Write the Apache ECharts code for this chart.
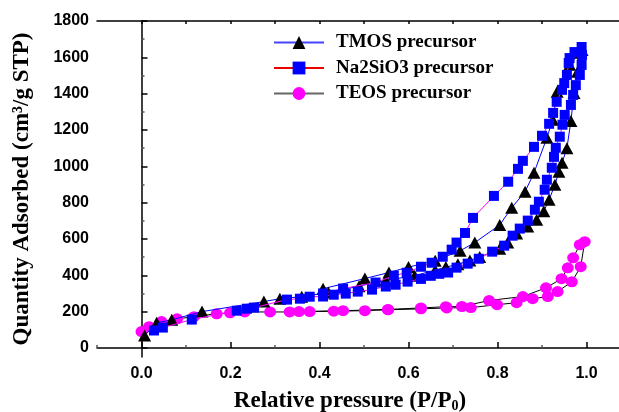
<!DOCTYPE html>
<html>
<head>
<meta charset="utf-8">
</head>
<body style="margin: 0">
<div id="container" style="width: 619px; height: 412px"></div>
<script src="https://cdn.jsdelivr.net/npm/echarts@6/dist/echarts.min.js"></script>
<script>
// isotherms: adsorption branch (up) then desorption branch (down), [P/P0, quantity]
var tmosData = [
    [0.007, 68], [0.034, 138], [0.068, 155], [0.136, 200], [0.275, 255], [0.311, 271],
    [0.36, 282], [0.42, 305], [0.489, 340], [0.549, 372], [0.614, 398], [0.66, 428],
    [0.684, 445], [0.711, 460], [0.738, 482], [0.76, 500], [0.805, 546], [0.823, 580],
    [0.843, 630], [0.868, 668], [0.888, 706], [0.904, 752], [0.916, 816], [0.929, 898],
    [0.938, 970], [0.945, 1019], [0.956, 1100], [0.965, 1250], [0.972, 1404], [0.98, 1520],
    [0.99, 1640],
    [0.985, 1625], [0.962, 1559], [0.934, 1410], [0.924, 1256], [0.911, 1157], [0.882, 964],
    [0.862, 860], [0.832, 772], [0.805, 677], [0.749, 580], [0.716, 535], [0.66, 480],
    [0.60, 445], [0.556, 415], [0.502, 382], [0.408, 326]
];
var na2sio3Data = [
    [0.028, 96], [0.048, 112], [0.113, 156], [0.214, 205], [0.237, 216], [0.253, 222],
    [0.327, 266], [0.356, 271], [0.378, 282], [0.408, 283], [0.432, 293], [0.459, 299],
    [0.486, 310], [0.518, 321], [0.549, 338], [0.571, 348], [0.598, 365], [0.628, 380],
    [0.65, 397], [0.669, 408], [0.689, 415], [0.708, 442], [0.733, 464], [0.758, 491],
    [0.788, 530], [0.815, 563], [0.834, 618], [0.85, 657], [0.868, 701], [0.884, 761],
    [0.893, 805], [0.906, 871], [0.911, 926], [0.922, 992], [0.927, 1052], [0.931, 1102],
    [0.94, 1163], [0.946, 1229], [0.951, 1283], [0.965, 1338], [0.97, 1393], [0.976, 1447],
    [0.985, 1503], [0.989, 1558], [0.99, 1613], [0.989, 1657],
    [0.973, 1629], [0.962, 1596], [0.96, 1569], [0.956, 1503], [0.95, 1458], [0.945, 1421],
    [0.933, 1355], [0.925, 1294], [0.916, 1234], [0.9, 1168], [0.882, 1107], [0.857, 1030],
    [0.846, 986], [0.824, 915], [0.792, 837], [0.745, 716], [0.727, 633], [0.708, 580],
    [0.697, 541], [0.677, 502], [0.652, 469], [0.628, 447], [0.596, 414], [0.567, 398],
    [0.526, 360], [0.453, 327], [0.408, 300]
];
var teosData = [
    [0.0, 90], [0.017, 117], [0.045, 145], [0.08, 160], [0.118, 172], [0.169, 188],
    [0.199, 193], [0.232, 198], [0.289, 198], [0.333, 198], [0.378, 200], [0.432, 202],
    [0.502, 205], [0.554, 210], [0.628, 215], [0.686, 220], [0.74, 222], [0.799, 238],
    [0.843, 249], [0.879, 271], [0.913, 283], [0.935, 310], [0.967, 364], [0.987, 447],
    [0.996, 585],
    [0.985, 568], [0.97, 496], [0.958, 441], [0.944, 381], [0.909, 331], [0.857, 283],
    [0.781, 261], [0.72, 228], [0.684, 227], [0.628, 220], [0.554, 212], [0.453, 205],
    [0.354, 200]
];
var seriesNames = ['TMOS precursor', 'Na2SiO3 precursor', 'TEOS precursor'];

var xMajorTicks = [0, 0.2, 0.4, 0.6, 0.8, 1.0];
var xMinorTicks = [-0.1, 0.1, 0.3, 0.5, 0.7, 0.9];
var xTopTicks = [0, 0.1, 0.2, 0.3, 0.4, 0.5, 0.6, 0.7, 0.8, 0.9, 1.0];
var yMajorTicks = [0, 200, 400, 600, 800, 1000, 1200, 1400, 1600, 1800];
var yMinorTicks = [100, 300, 500, 700, 900, 1100, 1300, 1500, 1700];

var dom = document.getElementById('container');
var myChart = echarts.init(dom);

var axisLineStyle = {color: '#000', width: 1.5};
var tickFont = {color: '#000', fontFamily: 'Liberation Sans', fontWeight: 'bold', fontSize: 16};

var option = {
    animation: false,
    grid: {left: 97, top: 21, right: -12, bottom: 55, outerBoundsMode: 'none'},
    legend: {
        orient: 'vertical',
        left: 273,
        top: 33,
        padding: 0,
        itemWidth: 50,
        itemHeight: 16,
        itemGap: 6.5,
        textStyle: {
            fontFamily: 'Liberation Serif', fontWeight: 'bold', fontSize: 19, color: '#000',
            padding: [0, 0, 0, 7]
        },
        data: [
            {name: seriesNames[0], lineStyle: {color: '#4444ff'}},
            {name: seriesNames[1], lineStyle: {color: '#ee0000'}},
            {name: seriesNames[2], lineStyle: {color: '#666666'}}
        ]
    },
    xAxis: [{
        type: 'value', min: -0.1, max: 1.1, position: 'bottom',
        axisLine: {show: true, lineStyle: axisLineStyle},
        axisTick: {show: true, inside: true, length: 6, customValues: xMajorTicks, lineStyle: {width: 1.5}},
        axisLabel: Object.assign({customValues: xMajorTicks, margin: 9, formatter: function (v) { return v.toFixed(1); }}, tickFont),
        splitLine: {show: false},
        name: '{a|Relative pressure (P/P}{s|0}{a|)}',
        nameLocation: 'middle',
        nameGap: 32,
        nameTextStyle: {
            padding: [0, 28, 0, 0],
            rich: {
                a: {fontFamily: 'Liberation Serif', fontWeight: 'bold', fontSize: 23, color: '#000'},
                s: {fontFamily: 'Liberation Serif', fontWeight: 'bold', fontSize: 14, color: '#000', padding: [10, 0, 0, 0]}
            }
        }
    }, {
        type: 'value', min: -0.1, max: 1.1, position: 'bottom',
        axisLine: {show: false},
        axisTick: {show: true, inside: true, length: 3, customValues: xMinorTicks, lineStyle: {width: 1.5}},
        axisLabel: {show: false},
        splitLine: {show: false}
    }, {
        type: 'value', min: -0.1, max: 1.1, position: 'top',
        axisLine: {show: true, lineStyle: axisLineStyle},
        axisTick: {show: true, inside: true, length: 3, customValues: xTopTicks, lineStyle: {width: 1.5}},
        axisLabel: {show: false},
        splitLine: {show: false}
    }],
    yAxis: [{
        type: 'value', min: -50, max: 1800, position: 'left',
        axisLine: {show: true, lineStyle: axisLineStyle},
        axisTick: {show: true, inside: true, length: 6, customValues: yMajorTicks, lineStyle: {width: 1.5}},
        axisLabel: Object.assign({customValues: yMajorTicks, margin: 8, formatter: function (v) { return String(v); }}, tickFont),
        splitLine: {show: false},
        name: 'Quantity Adsorbed (cm³/g STP)',
        nameLocation: 'middle',
        nameGap: 63,
        nameTextStyle: {fontFamily: 'Liberation Serif', fontWeight: 'bold', fontSize: 23, color: '#000'}
    }, {
        type: 'value', min: -50, max: 1800, position: 'left',
        axisLine: {show: false},
        axisTick: {show: true, inside: true, length: 3, customValues: yMinorTicks, lineStyle: {width: 1.5}},
        axisLabel: {show: false},
        splitLine: {show: false}
    }],
    series: [{
        name: seriesNames[0],
        type: 'line',
        data: tmosData,
        symbol: 'triangle',
        symbolSize: [13, 12],
        showAllSymbol: true,
        itemStyle: {color: '#000'},
        lineStyle: {color: '#0000ff', width: 1},
        z: 3
    }, {
        name: seriesNames[1],
        type: 'line',
        data: na2sio3Data,
        symbol: 'rect',
        symbolSize: 10,
        showAllSymbol: true,
        itemStyle: {color: '#0000ff'},
        lineStyle: {color: '#ff00ff', width: 1},
        z: 4
    }, {
        name: seriesNames[2],
        type: 'line',
        data: teosData,
        symbol: 'circle',
        symbolSize: [12, 11],
        showAllSymbol: true,
        itemStyle: {color: '#ff00ff'},
        lineStyle: {color: '#000', width: 1},
        z: 2
    }]
};

myChart.setOption(option);
</script>
</body>
</html>
